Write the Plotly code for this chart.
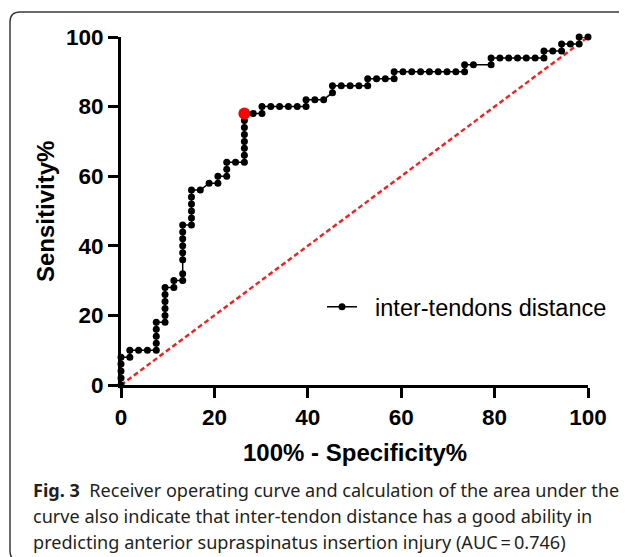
import plotly.graph_objects as go

# ROC curve points (100% - Specificity%, Sensitivity%)
spec = [0, 0, 0, 0, 0,
        1.89, 1.89, 3.77, 5.66,
        7.55, 7.55, 7.55, 7.55, 7.55,
        9.43, 9.43, 9.43, 9.43, 9.43, 9.43,
        11.32, 11.32,
        13.21, 13.21, 13.21, 13.21, 13.21, 13.21, 13.21, 13.21,
        15.09, 15.09, 15.09, 15.09, 15.09, 15.09,
        16.98, 18.87,
        20.75, 20.75,
        22.64, 22.64, 22.64,
        24.53,
        26.42, 26.42, 26.42, 26.42, 26.42, 26.42, 26.42, 26.42,
        28.30,
        30.19, 30.19,
        32.08, 33.96, 35.85, 37.74,
        39.62, 39.62,
        41.51, 43.40,
        45.28, 45.28,
        47.17, 49.06, 50.94,
        52.83, 52.83,
        54.72, 56.60,
        58.49, 58.49,
        60.38, 62.26, 64.15, 66.04, 67.92, 69.81, 71.70,
        73.58, 73.58,
        75.47,
        79.25, 79.25,
        81.13, 83.02, 84.91, 86.79, 88.68,
        90.57, 90.57,
        92.45,
        94.34, 94.34,
        96.23,
        98.11, 98.11,
        100]
sens = [0, 2, 4, 6, 8,
        8, 10, 10, 10,
        10, 12, 14, 16, 18,
        18, 20, 22, 24, 26, 28,
        28, 30,
        30, 32, 36, 38, 40, 42, 44, 46,
        46, 48, 50, 52, 54, 56,
        56, 58,
        58, 60,
        60, 62, 64,
        64,
        64, 66, 68, 70, 72, 74, 76, 78,
        78,
        78, 80,
        80, 80, 80, 80,
        80, 82,
        82, 82,
        84, 86,
        86, 86, 86,
        86, 88,
        88, 88,
        88, 90,
        90, 90, 90, 90, 90, 90, 90,
        90, 92,
        92,
        92, 94,
        94, 94, 94, 94, 94,
        94, 96,
        96,
        96, 98,
        98,
        98, 100,
        100]

# Optimal cut-off point
best_spec = [26.42]
best_sens = [78]

# Reference diagonal
diag_x = [0, 100]
diag_y = [0, 100]

x_ticks = [0, 20, 40, 60, 80, 100]
y_ticks = [0, 20, 40, 60, 80, 100]

series_name = "\u00a0\u00a0inter-tendons distance"
x_title = "100% - Specificity%"
y_title = "Sensitivity%"
caption = [
    "<b>Fig. 3</b>  Receiver operating curve and calculation of the area under the",
    "curve also indicate that inter-tendon distance has a good ability in",
    "predicting anterior supraspinatus insertion injury (AUC\u2009=\u20090.746)",
]

OFF = 8  # page body margin
W, H = 627 - OFF, 557 - OFF
L, T = 121 - OFF, 37 - OFF
pw, ph = 467, 348
R = W - L - pw
B = H - T - ph


def px(xp):
    return (xp - OFF - L) / pw


def py(yp):
    return (T + ph - (yp - OFF)) / ph


fig = go.Figure()
fig.add_trace(go.Scatter(
    x=diag_x, y=diag_y, mode="lines",
    line=dict(color="#ff1a1a", width=2.4, dash="5px,3px"),
    showlegend=False, cliponaxis=False, hoverinfo="skip"))
fig.add_trace(go.Scatter(
    x=spec, y=sens, mode="lines+markers", name=series_name,
    line=dict(color="black", width=1.5),
    marker=dict(color="black", size=7),
    cliponaxis=False))
fig.add_trace(go.Scatter(
    x=best_spec, y=best_sens, mode="markers",
    marker=dict(color="#ff0000", size=12),
    showlegend=False, cliponaxis=False))

axis_common = dict(
    showline=True, linecolor="black", linewidth=3,
    ticks="outside", ticklen=10, tickwidth=3, tickcolor="black",
    showgrid=False, zeroline=False, range=[0, 100],
    tickfont=dict(family="Liberation Sans, Arial", size=22.5, color="black", weight="bold"),
)

fig.update_xaxes(tickvals=x_ticks, **axis_common)
fig.update_yaxes(tickvals=y_ticks, **axis_common)

annotations = [
    dict(x=px(355), y=py(452), xref="paper", yref="paper", text="<b>" + x_title + "</b>",
         showarrow=False, xanchor="center", yanchor="middle",
         font=dict(family="Liberation Sans, Arial", size=24, color="black")),
    dict(x=px(45), y=py(212), xref="paper", yref="paper", text="<b>" + y_title + "</b>",
         showarrow=False, xanchor="center", yanchor="middle", textangle=-90,
         font=dict(family="Liberation Sans, Arial", size=24, color="black")),
]
for i, line in enumerate(caption):
    annotations.append(dict(
        x=px(31), y=py(490 + 26 * i), xref="paper", yref="paper", text=line,
        showarrow=False, xanchor="left", yanchor="middle",
        font=dict(family="Noto Sans", size=18.1, color="#231f20")))

# rounded frame around figure
xl, xr = px(10), px(660)
yt, yb = py(12), py(561)
rx, ry = 10 / pw, 10 / ph
frame = (f"M {xl},{yb + ry} L {xl},{yt - ry} Q {xl},{yt} {xl + rx},{yt} "
         f"L {xr},{yt} M {xl},{yb + ry} Q {xl},{yb} {xl + rx},{yb}")

fig.update_layout(
    width=W, height=H,
    margin=dict(l=L, r=R, t=T, b=B, pad=0),
    paper_bgcolor="white", plot_bgcolor="white",
    showlegend=True,
    legend=dict(x=px(322), y=py(307), xanchor="left", yanchor="middle",
                bgcolor="rgba(0,0,0,0)",
                font=dict(family="Liberation Sans, Arial", size=23.5, color="black")),
    annotations=annotations,
    shapes=[dict(type="path", path=frame, xref="paper", yref="paper",
                 line=dict(color="#3a3a3a", width=1.5))],
)

fig.write_html("out.html")
